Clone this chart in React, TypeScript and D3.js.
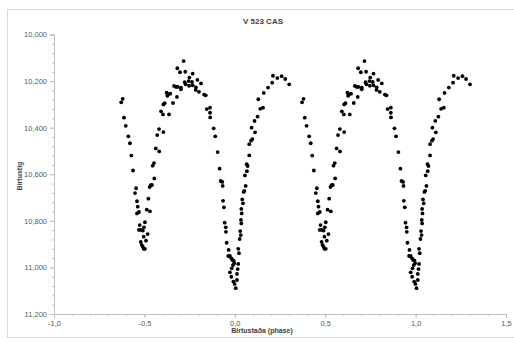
import { useRef, useEffect } from "react";
import * as d3 from "d3";

// V 523 Cas observations (phase, brightness); the fold is drawn twice (phase and phase + 1)
const phases = [
  -0.628, -0.62, -0.613, -0.603, -0.589, -0.58, -0.572, -0.563, -0.546, -0.552,
  -0.541, -0.537, -0.53, -0.541, -0.526, -0.53, -0.519, -0.509, -0.502, -0.497,
  -0.504, -0.52, -0.515, -0.509, -0.504, -0.497, -0.491, -0.482, -0.487, -0.469,
  -0.478, -0.471, -0.465, -0.458, -0.445, -0.454, -0.447, -0.437, -0.418, -0.429,
  -0.419, -0.395, -0.408, -0.397, -0.364, -0.395, -0.388, -0.342, -0.377, -0.368,
  -0.357, -0.373, -0.32, -0.336, -0.325, -0.316, -0.298, -0.298, -0.318, -0.303,
  -0.283, -0.274, -0.233, -0.251, -0.277, -0.272, -0.255, -0.237, -0.253, -0.233,
  -0.207, -0.187, -0.215, -0.216, -0.198, -0.17, -0.161, -0.155, -0.137, -0.137,
  -0.136, -0.117, -0.108, -0.095, -0.084, -0.078, -0.069, -0.067, -0.065, -0.06,
  -0.056, -0.05, -0.049, -0.045, -0.034, -0.036, -0.027, -0.019, -0.014, -0.006,
  -0.003, -0.01, -0.017, -0.027, -0.019, -0.008, -0.001, 0.005, 0.019, 0.016,
  0.012, 0.012, 0.019, 0.023, 0.027, 0.033, 0.03, 0.036, 0.034, 0.038,
  0.036, 0.045, 0.041, 0.049, 0.053, 0.06, 0.056, 0.067, 0.066, 0.071,
  0.08, 0.08, 0.09, 0.097, 0.112, 0.093, 0.109, 0.126, 0.13, 0.141,
  0.156, 0.16, 0.184, 0.207, 0.211, 0.235, 0.259, 0.279, 0.301,
];
const mags = [
  10.291, 10.276, 10.357, 10.392, 10.437, 10.467, 10.52, 10.584, 10.66, 10.681,
  10.716, 10.739, 10.762, 10.768, 10.818, 10.839, 10.839, 10.842, 10.828, 10.806,
  10.868, 10.89, 10.903, 10.911, 10.92, 10.92, 10.885, 10.857, 10.752, 10.759,
  10.705, 10.655, 10.647, 10.646, 10.618, 10.563, 10.552, 10.489, 10.502, 10.432,
  10.406, 10.419, 10.33, 10.343, 10.343, 10.3, 10.295, 10.294, 10.25, 10.257,
  10.254, 10.263, 10.268, 10.221, 10.225, 10.225, 10.228, 10.235, 10.145, 10.162,
  10.114, 10.16, 10.168, 10.185, 10.205, 10.214, 10.2, 10.204, 10.22, 10.218,
  10.195, 10.21, 10.227, 10.238, 10.246, 10.258, 10.261, 10.32, 10.314, 10.336,
  10.356, 10.403, 10.437, 10.505, 10.576, 10.629, 10.633, 10.65, 10.714, 10.742,
  10.808, 10.828, 10.847, 10.894, 10.925, 10.951, 10.951, 10.961, 10.968, 10.971,
  10.982, 10.99, 11.004, 11.021, 11.04, 11.061, 11.071, 11.089, 10.985, 11.007,
  11.028, 11.054, 10.92, 10.939, 10.878, 10.861, 10.844, 10.811, 10.796, 10.768,
  10.749, 10.725, 10.708, 10.676, 10.671, 10.65, 10.605, 10.587, 10.557, 10.565,
  10.519, 10.471, 10.456, 10.449, 10.42, 10.4, 10.371, 10.353, 10.278, 10.319,
  10.314, 10.251, 10.228, 10.207, 10.177, 10.187, 10.179, 10.191, 10.214,
];
const cycleOffsets = [0, 1];
const xTicks = [-1.0, -0.5, 0.0, 0.5, 1.0, 1.5];
const yTicks = [10.0, 10.2, 10.4, 10.6, 10.8, 11.0, 11.2];

const title = "V 523 CAS";
const xTitle = "Birtustaða (phase)";
const yTitle = "Birtustig";

const width = 514;
const height = 343;
const margin = { top: 34.5, right: 8, bottom: 29, left: 54 };
const font = "'Liberation Sans', Arial, sans-serif";

const App = () => {
  const svgRef = useRef<SVGSVGElement>(null);

  useEffect(() => {
    const svg = d3.select(svgRef.current);
    svg.selectAll("*").remove();

    const x = d3
      .scaleLinear()
      .domain([-1, 1.5])
      .range([margin.left, width - margin.right]);
    const y = d3
      .scaleLinear()
      .domain([10, 11.2])
      .range([margin.top, height - margin.bottom]);

    const comma = (v: number, digits: number) =>
      v.toFixed(digits).replace(".", ",");

    // chart frame
    svg
      .append("rect")
      .attr("x", 7.5)
      .attr("y", 9.5)
      .attr("width", 520)
      .attr("height", 328)
      .attr("fill", "#fff")
      .attr("stroke", "#d9d9d9");

    const axisColor = "#bfbfbf";

    // y axis
    const yAxis = svg
      .append("g")
      .attr("transform", `translate(${margin.left},0)`)
      .call(
        d3
          .axisLeft(y)
          .tickValues(d3.range(10, 11.2001, 0.04))
          .tickSize(2)
          .tickFormat(() => "")
      );
    yAxis
      .append("g")
      .call(
        d3
          .axisLeft(y)
          .tickValues(yTicks)
          .tickSize(4)
          .tickPadding(3)
          .tickFormat((d) => comma(d as number, 3))
      );
    yAxis.selectAll(".domain").attr("stroke", axisColor);
    yAxis.selectAll("line").attr("stroke", axisColor);
    yAxis
      .selectAll("text")
      .attr("fill", "#595959")
      .style("font-family", font)
      .style("font-size", "7.5px");

    // x axis
    const xAxis = svg
      .append("g")
      .attr("transform", `translate(0,${height - margin.bottom})`)
      .call(
        d3
          .axisBottom(x)
          .tickValues(d3.range(-1, 1.5001, 0.1))
          .tickSize(2)
          .tickFormat(() => "")
      );
    xAxis
      .append("g")
      .call(
        d3
          .axisBottom(x)
          .tickValues(xTicks)
          .tickSize(4)
          .tickPadding(3)
          .tickFormat((d) => comma(d as number, 1))
      );
    xAxis.selectAll(".domain").attr("stroke", axisColor);
    xAxis.selectAll("line").attr("stroke", axisColor);
    xAxis
      .selectAll("text")
      .attr("fill", "#595959")
      .style("font-family", font)
      .style("font-size", "7.5px");

    // points
    const pts = cycleOffsets.flatMap((off) =>
      phases.map((p, i) => ({ p: p + off, m: mags[i] }))
    );
    svg
      .append("g")
      .selectAll("circle")
      .data(pts)
      .enter()
      .append("circle")
      .attr("cx", (d) => x(d.p))
      .attr("cy", (d) => y(d.m))
      .attr("r", 1.9)
      .attr("fill", "#000");

    // titles
    svg
      .append("text")
      .attr("x", 263)
      .attr("y", 24)
      .attr("text-anchor", "middle")
      .style("font-family", font)
      .style("font-size", "8px")
      .style("font-weight", "bold")
      .attr("fill", "#404040")
      .text(title);
    svg
      .append("text")
      .attr("x", 262)
      .attr("y", 333)
      .attr("text-anchor", "middle")
      .style("font-family", font)
      .style("font-size", "7px")
      .style("font-weight", "bold")
      .attr("fill", "#404040")
      .text(xTitle);
    svg
      .append("text")
      .attr("transform", `translate(22,176) rotate(-90)`)
      .attr("text-anchor", "middle")
      .style("font-family", font)
      .style("font-size", "7px")
      .style("font-weight", "bold")
      .attr("fill", "#404040")
      .text(yTitle);
  }, []);

  return (
    <svg
      ref={svgRef}
      width={width}
      height={height}
      style={{ position: "absolute", left: 0, top: 0, display: "block" }}
    ></svg>
  );
};

export default App;
